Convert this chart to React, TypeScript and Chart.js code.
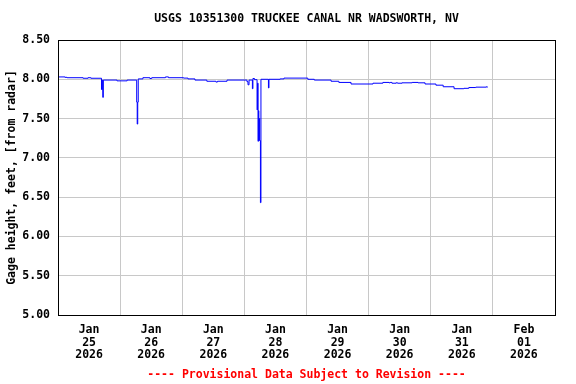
import React, { useEffect, useRef } from "react";
import { Chart, registerables } from "chart.js";

Chart.register(...registerables);

const chartTitle = "USGS 10351300 TRUCKEE CANAL NR WADSWORTH, NV";
const yAxisTitle = "Gage height, feet, [from radar]";
const footerText = "---- Provisional Data Subject to Revision ----";

// hours since Jan 25 2026 00:00
const hours = [
  0, 2.7, 3.5, 9.7, 11.6, 12.7, 16.8, 17.1, 17.3, 17.5, 22.8, 26.7,
  30.4, 30.6, 30.8, 31.0, 32.8, 35.5, 36.2, 41.5, 42.7, 48.5, 50.2, 52.9,
  57.5, 61.0, 61.6, 65.3, 73.0, 73.4, 73.8, 75.1, 75.3, 75.9,
  76.9, 77.1, 77.3, 77.4, 77.6, 77.7, 77.9, 78.2, 78.4,
  81.3, 81.5, 85.8, 87.3, 96.5, 99.0, 105.5, 108.5, 113.2, 121.7, 125.5,
  127.9, 128.3, 129.0, 130.6, 131.2, 132.9, 136.8, 139.1, 141.8, 146.0,
  148.8, 153.0, 156.8, 158.7, 161.4, 165.5, 165.8, 166.0,
];

const gageHeight = [
  8.03, 8.025, 8.02, 8.013, 8.02, 8.013, 7.87, 7.99, 7.77, 7.99, 7.98, 7.99,
  7.71, 7.43, 7.71, 8.005, 8.02, 8.01, 8.02, 8.03, 8.02, 8.015, 8.005, 7.99,
  7.975, 7.965, 7.975, 7.99, 7.97, 7.93, 7.99, 7.88, 8.01, 7.995,
  7.61, 7.95, 7.21, 7.6, 7.22, 7.5, 7.22, 6.43, 8.0,
  7.89, 8.0, 8.005, 8.015, 8.0, 7.99, 7.975, 7.96, 7.94, 7.95, 7.96,
  7.955, 7.96, 7.95, 7.955, 7.95, 7.955, 7.96, 7.955, 7.94, 7.925,
  7.905, 7.88, 7.885, 7.895, 7.9, 7.905, 7.9, 7.9,
];

const dayLabels = [
  ["Jan", "25", "2026"],
  ["Jan", "26", "2026"],
  ["Jan", "27", "2026"],
  ["Jan", "28", "2026"],
  ["Jan", "29", "2026"],
  ["Jan", "30", "2026"],
  ["Jan", "31", "2026"],
  ["Feb", "01", "2026"],
];

const yMin = 5;
const yMax = 8.5;
const yStep = 0.5;
const xMinHours = 0;
const xMaxHours = 192;

const FONT = "'DejaVu Sans Mono', 'Liberation Mono', monospace";

const framePlugin = {
  id: "frame",
  afterDatasetsDraw(chart: any) {
    const { ctx, chartArea } = chart;
    const l = Math.round(chartArea.left) + 0.5;
    const t = Math.round(chartArea.top) + 0.5;
    const r = Math.round(chartArea.right) + 0.5;
    const b = Math.round(chartArea.bottom) + 0.5;
    ctx.save();
    ctx.strokeStyle = "#000";
    ctx.lineWidth = 1;
    ctx.strokeRect(l, t, r - l, b - t);
    ctx.restore();
  },
};

const textPlugin = {
  id: "centeredTexts",
  afterDraw(chart: any) {
    const { ctx, chartArea } = chart;
    const cx = (chartArea.left + chartArea.right) / 2;
    ctx.save();
    ctx.font = `bold 11.5px ${FONT}`;
    ctx.textAlign = "center";
    ctx.textBaseline = "middle";
    ctx.fillStyle = "#000";
    ctx.fillText(chartTitle, cx, 19);
    ctx.fillStyle = "#ff0000";
    ctx.fillText(footerText, cx, 375);
    ctx.restore();
  },
};

export default function App() {
  const canvasRef = useRef<HTMLCanvasElement | null>(null);

  useEffect(() => {
    if (!canvasRef.current) return;
    const points = hours.map((h, i) => ({ x: h, y: gageHeight[i] }));
    const chart = new Chart(canvasRef.current, {
      type: "line",
      data: {
        datasets: [
          {
            data: points,
            borderColor: "#0000ff",
            borderWidth: 1,
            pointRadius: 0,
            stepped: true,
            fill: false,
          },
        ],
      },
      options: {
        animation: false,
        responsive: false,
        devicePixelRatio: 1,
        layout: { padding: { left: 0, right: 21, top: 40, bottom: 21.4 } },
        plugins: {
          legend: { display: false },
          tooltip: { enabled: false },
          title: { display: false },
          subtitle: { display: false },
        },
        scales: {
          x: {
            type: "linear",
            min: xMinHours,
            max: xMaxHours,
            afterFit: (scale: any) => {
              scale.height = 47.6;
            },
            border: { display: true, color: "#000" },
            grid: {
              drawTicks: false,
              color: (ctx: any) =>
                ctx.tick && ctx.tick.value % 24 === 0 ? "#c8c8c8" : "rgba(0,0,0,0)",
            },
            ticks: {
              stepSize: 12,
              autoSkip: false,
              maxRotation: 0,
              minRotation: 0,
              padding: 9,
              color: "#000",
              font: { family: FONT, size: 11.5, weight: "bold", lineHeight: "12.5px" },
              callback: (value: any) => {
                const v = Number(value);
                if (v % 24 === 12) return dayLabels[(v - 12) / 24];
                return "";
              },
            },
          },
          y: {
            type: "linear",
            min: yMin,
            max: yMax,
            afterFit: (scale: any) => {
              scale.width = 58;
            },
            border: { display: true, color: "#000" },
            grid: { drawTicks: false, color: "#c8c8c8" },
            ticks: {
              stepSize: yStep,
              padding: 8,
              color: "#000",
              font: { family: FONT, size: 11.5, weight: "bold" },
              callback: (value: any) => Number(value).toFixed(2),
            },
            title: {
              display: true,
              text: yAxisTitle,
              color: "#000",
              font: { family: FONT, size: 11.5, weight: "bold" },
              padding: { top: 5, bottom: 0 },
            },
          },
        },
      },
      plugins: [framePlugin, textPlugin],
    });
    return () => chart.destroy();
  }, []);

  return (
    <div style={{ position: "absolute", left: 0, top: 0, width: 576, height: 384, background: "#fff" }}>
      <canvas ref={canvasRef} width={576} height={384} style={{ display: "block" }} />
    </div>
  );
}
